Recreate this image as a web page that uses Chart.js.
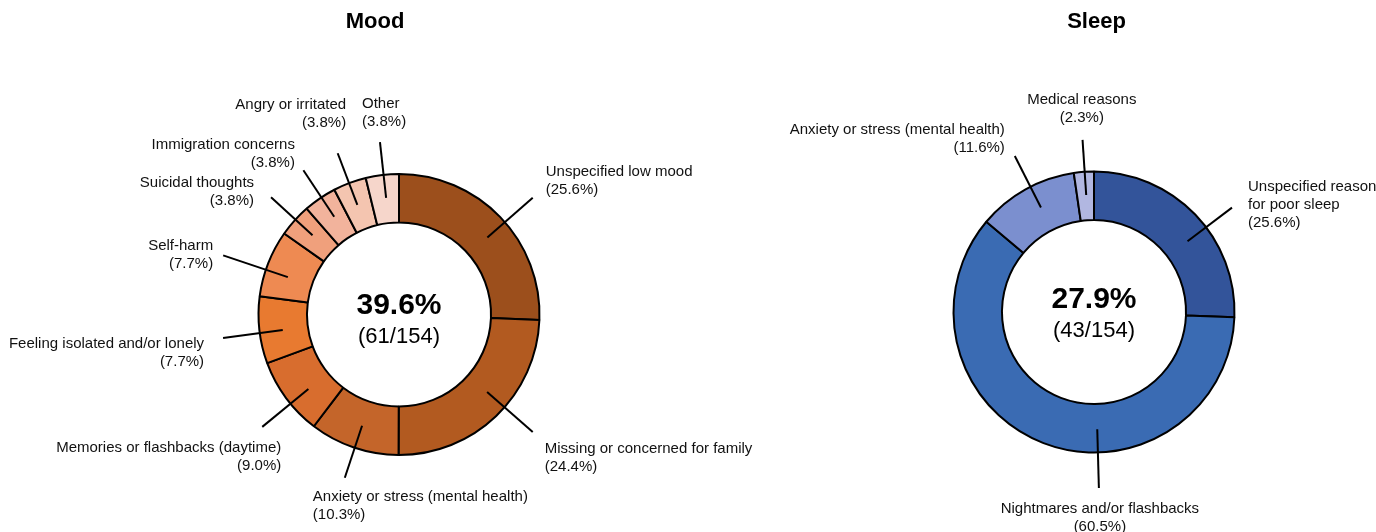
<!DOCTYPE html>
<html>
<head>
<meta charset="utf-8">
<script src="https://cdn.jsdelivr.net/npm/chart.js@4.4.0/dist/chart.umd.min.js"></script>
<style>
  html, body { margin: 0; padding: 0; background: #fff; }
  .box { position: absolute; top: 0; height: 532px; }
  #moodBox { left: 0; width: 770px; }
  #sleepBox { left: 770px; width: 606px; }
</style>
</head>
<body>
<div class="box" id="moodBox"><canvas id="moodChart"></canvas></div>
<div class="box" id="sleepBox"><canvas id="sleepChart"></canvas></div>
<script>
// data
const respondents = 154;

const moodLabels = [
  "Unspecified low mood",
  "Missing or concerned for family",
  "Anxiety or stress (mental health)",
  "Memories or flashbacks (daytime)",
  "Feeling isolated and/or lonely",
  "Self-harm",
  "Suicidal thoughts",
  "Immigration concerns",
  "Angry or irritated",
  "Other",
];
const moodValues = [25.6, 24.4, 10.3, 9.0, 7.7, 7.7, 3.8, 3.8, 3.8, 3.8];
const moodShare = 39.6;
const moodCount = 61;

const sleepLabels = [
  ["Unspecified reason", "for poor sleep"],
  "Nightmares and/or flashbacks",
  "Anxiety or stress (mental health)",
  "Medical reasons",
];
const sleepValues = [25.6, 60.5, 11.6, 2.3];
const sleepShare = 27.9;
const sleepCount = 43;

// colours
const moodColors = [
  "#9c4f1c", "#b25a20", "#c4652a", "#d86d2e", "#e87a30",
  "#ee8a52", "#f0a07c", "#f2b39c", "#f4c5b0", "#f6d6cb",
];
const sleepColors = ["#33549a", "#3a6bb3", "#7b8fcf", "#b1b7e1"];

// callout layout: point along the slice (at), line length past the ring (ext), text offset from line end
const moodCallouts = [
  { at: 0.53, ext: 37, align: "left", dx: 13, dy: -16.5 },
  { at: 0.444, ext: 37.5, align: "left", dx: 12, dy: 26 },
  { at: 0.49, ext: 31.5, align: "left", dx: -32, dy: 28 },
  { at: 0.41, ext: 36.5, align: "right", dx: 19, dy: 30 },
  { at: 0.457, ext: 37, align: "right", dx: -19, dy: 15 },
  { at: 0.40, ext: 45, align: "right", dx: -10, dy: -1 },
  { at: 0.53, ext: 33, align: "right", dx: -17, dy: -5 },
  { at: 0.55, ext: 32.5, align: "right", dx: -8.5, dy: -16 },
  { at: 0.48, ext: 32, align: "right", dx: 8.5, dy: -39 },
  { at: 0.54, ext: 33, align: "left", dx: -18, dy: -29.5 },
];
const sleepCallouts = [
  { at: 0.574, ext: 32.5, align: "left", dx: 16, dy: -2.7 },
  { at: 0.396, ext: 35.5, align: "center", dx: 1, dy: 30 },
  { at: 0.554, ext: 34.5, align: "right", dx: -10, dy: -17 },
  { at: 0.54, ext: 32, align: "center", dx: -0.7, dy: -31.5 },
];

const FONT = "'Liberation Sans', Arial, Helvetica, sans-serif";

const calloutPlugin = (cfg) => ({
  id: "callouts",
  afterDraw(chart) {
    const ctx = chart.ctx;
    const meta = chart.getDatasetMeta(0);
    const values = chart.data.datasets[0].data;
    let cx = 0, cy = 0;
    ctx.save();
    meta.data.forEach((arc, i) => {
      const p = arc.getProps(["x", "y", "startAngle", "endAngle", "innerRadius", "outerRadius"], true);
      cx = p.x;
      cy = p.y;
      const lay = cfg.callouts[i];
      const a = p.startAngle + (p.endAngle - p.startAngle) * lay.at;
      const r0 = (p.innerRadius + p.outerRadius) / 2 + 1;
      const r1 = p.outerRadius + lay.ext;
      const x0 = p.x + Math.cos(a) * r0, y0 = p.y + Math.sin(a) * r0;
      const x1 = p.x + Math.cos(a) * r1, y1 = p.y + Math.sin(a) * r1;
      ctx.beginPath();
      ctx.moveTo(x0, y0);
      ctx.lineTo(x1, y1);
      ctx.lineWidth = 2;
      ctx.strokeStyle = "#000";
      ctx.stroke();

      const lines = [].concat(chart.data.labels[i], `(${values[i].toFixed(1)}%)`);
      ctx.font = `15px ${FONT}`;
      ctx.fillStyle = "#111";
      ctx.textAlign = lay.align;
      ctx.textBaseline = "middle";
      const lh = 18;
      const top = y1 + lay.dy - ((lines.length - 1) * lh) / 2;
      lines.forEach((t, k) => ctx.fillText(t, x1 + lay.dx, top + k * lh));
    });

    ctx.fillStyle = "#000";
    ctx.textAlign = "center";
    ctx.textBaseline = "middle";
    ctx.font = `bold 30px ${FONT}`;
    ctx.fillText(`${cfg.share.toFixed(1)}%`, cx, cy + cfg.centerDy[0]);
    ctx.font = `22px ${FONT}`;
    ctx.fillText(`(${cfg.count}/${respondents})`, cx, cy + cfg.centerDy[1]);

    ctx.font = `bold 22px ${FONT}`;
    ctx.fillText(cfg.title, cfg.titleX, 22);
    ctx.restore();
  },
});

const makeDonut = (id, labels, values, colors, padding, cfg) => {
  new Chart(document.getElementById(id), {
    type: "doughnut",
    data: {
      labels: labels,
      datasets: [
        {
          data: values,
          backgroundColor: colors,
          borderColor: "#000",
          borderWidth: 2,
        },
      ],
    },
    options: {
      responsive: true,
      maintainAspectRatio: false,
      animation: false,
      radius: 140.5,
      cutout: "65.5%",
      layout: { padding: padding },
      plugins: {
        legend: { display: false },
        tooltip: { enabled: false },
      },
    },
    plugins: [calloutPlugin(cfg)],
  });
};

makeDonut("moodChart", moodLabels, moodValues, moodColors,
  { top: 97, left: 28, right: 0, bottom: 0 },
  { callouts: moodCallouts, share: moodShare, count: moodCount,
    title: "Mood", titleX: 375, centerDy: [-9, 22] });

makeDonut("sleepChart", sleepLabels, sleepValues, sleepColors,
  { top: 92, left: 42, right: 0, bottom: 0 },
  { callouts: sleepCallouts, share: sleepShare, count: sleepCount,
    title: "Sleep", titleX: 326.5, centerDy: [-12, 19] });
</script>
</body>
</html>
